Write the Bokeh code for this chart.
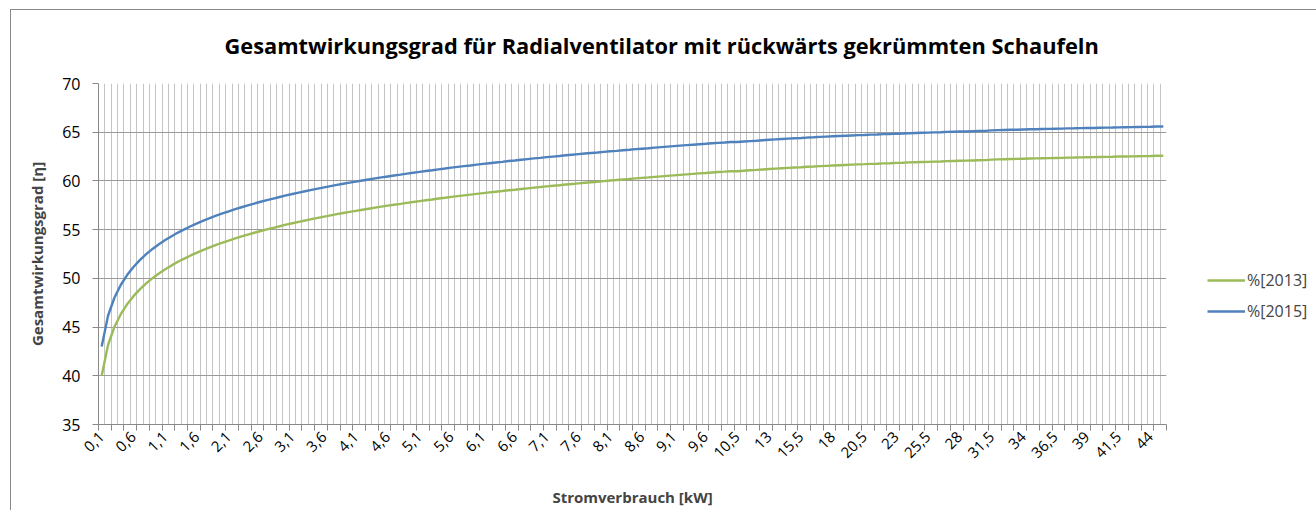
from bokeh.plotting import figure
from bokeh.models import FixedTicker, Range1d, Legend, LegendItem, Title
from bokeh.embed import file_html
from bokeh.resources import INLINE

# ---------------- data ----------------
power_kw = [
    0.1, 0.2, 0.3, 0.4, 0.5, 0.6, 0.7, 0.8, 0.9, 1.0,
    1.1, 1.2, 1.3, 1.4, 1.5, 1.6, 1.7, 1.8, 1.9, 2.0,
    2.1, 2.2, 2.3, 2.4, 2.5, 2.6, 2.7, 2.8, 2.9, 3.0,
    3.1, 3.2, 3.3, 3.4, 3.5, 3.6, 3.7, 3.8, 3.9, 4.0,
    4.1, 4.2, 4.3, 4.4, 4.5, 4.6, 4.7, 4.8, 4.9, 5.0,
    5.1, 5.2, 5.3, 5.4, 5.5, 5.6, 5.7, 5.8, 5.9, 6.0,
    6.1, 6.2, 6.3, 6.4, 6.5, 6.6, 6.7, 6.8, 6.9, 7.0,
    7.1, 7.2, 7.3, 7.4, 7.5, 7.6, 7.7, 7.8, 7.9, 8.0,
    8.1, 8.2, 8.3, 8.4, 8.5, 8.6, 8.7, 8.8, 8.9, 9.0,
    9.1, 9.2, 9.3, 9.4, 9.5, 9.6, 9.7, 9.8, 9.9, 10.0,
    10.5, 11, 11.5, 12, 12.5, 13, 13.5, 14, 14.5, 15,
    15.5, 16, 16.5, 17, 17.5, 18, 18.5, 19, 19.5, 20,
    20.5, 21, 21.5, 22, 22.5, 23, 23.5, 24, 24.5, 25,
    25.5, 26, 26.5, 27, 27.5, 28, 28.5, 29, 29.5, 30,
    31.5, 32, 32.5, 33, 33.5, 34, 34.5, 35, 35.5, 36,
    36.5, 37, 37.5, 38, 38.5, 39, 39.5, 40, 40.5, 41,
    41.5, 42, 42.5, 43, 43.5, 44, 44.5, 45,
]

eta_2013 = [
    40.00, 43.16, 45.01, 46.32, 47.34, 48.17, 48.87, 49.48, 50.02, 50.50,
    50.93, 51.33, 51.70, 52.03, 52.35, 52.64, 52.92, 53.18, 53.43, 53.66,
    53.88, 54.10, 54.30, 54.49, 54.68, 54.86, 55.03, 55.19, 55.35, 55.51,
    55.66, 55.80, 55.94, 56.08, 56.21, 56.34, 56.47, 56.59, 56.71, 56.82,
    56.93, 57.04, 57.15, 57.26, 57.36, 57.46, 57.56, 57.65, 57.75, 57.84,
    57.93, 58.02, 58.10, 58.19, 58.27, 58.36, 58.44, 58.52, 58.59, 58.67,
    58.75, 58.82, 58.89, 58.96, 59.04, 59.10, 59.17, 59.24, 59.31, 59.37,
    59.44, 59.50, 59.56, 59.63, 59.69, 59.75, 59.81, 59.87, 59.92, 59.98,
    60.04, 60.09, 60.15, 60.20, 60.26, 60.31, 60.36, 60.42, 60.47, 60.52,
    60.57, 60.62, 60.67, 60.72, 60.77, 60.81, 60.86, 60.91, 60.95, 61.00,
    60.99, 61.04, 61.09, 61.13, 61.18, 61.22, 61.26, 61.30, 61.34, 61.38,
    61.41, 61.45, 61.48, 61.52, 61.55, 61.58, 61.61, 61.64, 61.67, 61.70,
    61.72, 61.75, 61.77, 61.80, 61.82, 61.85, 61.87, 61.90, 61.92, 61.94,
    61.96, 61.98, 62.00, 62.03, 62.05, 62.07, 62.08, 62.10, 62.12, 62.14,
    62.19, 62.21, 62.23, 62.25, 62.26, 62.28, 62.30, 62.31, 62.33, 62.34,
    62.36, 62.37, 62.39, 62.40, 62.42, 62.43, 62.44, 62.46, 62.47, 62.48,
    62.50, 62.51, 62.52, 62.54, 62.55, 62.56, 62.58, 62.59,
]

eta_2015 = [
    43.00, 46.16, 48.01, 49.32, 50.34, 51.17, 51.87, 52.48, 53.02, 53.50,
    53.93, 54.33, 54.70, 55.03, 55.35, 55.64, 55.92, 56.18, 56.43, 56.66,
    56.88, 57.10, 57.30, 57.49, 57.68, 57.86, 58.03, 58.19, 58.35, 58.51,
    58.66, 58.80, 58.94, 59.08, 59.21, 59.34, 59.47, 59.59, 59.71, 59.82,
    59.93, 60.04, 60.15, 60.26, 60.36, 60.46, 60.56, 60.65, 60.75, 60.84,
    60.93, 61.02, 61.10, 61.19, 61.27, 61.36, 61.44, 61.52, 61.59, 61.67,
    61.75, 61.82, 61.89, 61.96, 62.04, 62.10, 62.17, 62.24, 62.31, 62.37,
    62.44, 62.50, 62.56, 62.63, 62.69, 62.75, 62.81, 62.87, 62.92, 62.98,
    63.04, 63.09, 63.15, 63.20, 63.26, 63.31, 63.36, 63.42, 63.47, 63.52,
    63.57, 63.62, 63.67, 63.72, 63.77, 63.81, 63.86, 63.91, 63.95, 64.00,
    63.99, 64.04, 64.09, 64.13, 64.18, 64.22, 64.26, 64.30, 64.34, 64.38,
    64.41, 64.45, 64.48, 64.52, 64.55, 64.58, 64.61, 64.64, 64.67, 64.70,
    64.72, 64.75, 64.77, 64.80, 64.82, 64.85, 64.87, 64.90, 64.92, 64.94,
    64.96, 64.98, 65.00, 65.03, 65.05, 65.07, 65.08, 65.10, 65.12, 65.14,
    65.19, 65.21, 65.23, 65.25, 65.26, 65.28, 65.30, 65.31, 65.33, 65.34,
    65.36, 65.37, 65.39, 65.40, 65.42, 65.43, 65.44, 65.46, 65.47, 65.48,
    65.50, 65.51, 65.52, 65.54, 65.55, 65.56, 65.58, 65.59,
]

series_names = ["%[2013]", "%[2015]"]
series_colors = ["#9bbb59", "#4f81bd"]
y_ticks = [35, 40, 45, 50, 55, 60, 65, 70]
label_every = 5     # every 5th category is labelled
tick_every = 2      # tick marks every 2nd category boundary

title_text = "Gesamtwirkungsgrad für Radialventilator mit rückwärts gekrümmten Schaufeln"
x_title = "Stromverbrauch [kW]"
y_title = "Gesamtwirkungsgrad [η]"

FONT = "Open Sans"

# ---------------- helpers ----------------
def de_label(v):
    return ("%g" % v).replace(".", ",")

n = len(power_kw)
xs = [i + 0.5 for i in range(n)]
label_pos = [i + 0.5 for i in range(0, n, label_every)]
overrides = {i + 0.5: de_label(power_kw[i]) for i in range(0, n, label_every)}

# ---------------- figure ----------------
p = figure(
    frame_width=1068, frame_height=341,
    x_range=Range1d(0, n), y_range=Range1d(y_ticks[0], y_ticks[-1]),
    output_backend="svg", toolbar_location=None,
    min_border_left=98, min_border_right=20, min_border_top=83, min_border_bottom=86,
)
# chart-area frame (top and left edges; the rest lies outside the window)
p.styles = {
    "background": ("linear-gradient(#898989, #898989) 10px 9px / 1px 100% no-repeat, "
                   "linear-gradient(#898989, #898989) 10px 9px / 100% 1px no-repeat, white"),
}
p.outline_line_color = None
p.background_fill_color = "white"
p.border_fill_alpha = 0

# title
p.title = Title(text=title_text, align="left", offset=126, standoff=47,
                text_font=FONT, text_font_size="21.8px", text_font_style="bold",
                text_color="black")

# x axis
xa = p.xaxis[0]
xa.ticker = FixedTicker(ticks=label_pos, minor_ticks=list(range(0, n + 1, tick_every)))
xa.major_label_overrides = overrides
xa.major_label_orientation = 0.785398
xa.major_tick_line_color = None
xa.minor_tick_line_color = "#898989"
xa.minor_tick_out = 6
xa.minor_tick_in = 0
xa.axis_line_color = "#898989"
xa.major_label_text_font = FONT
xa.major_label_text_font_size = "15px"
xa.major_label_text_color = "black"
xa.major_label_standoff = 4
xa.axis_label = x_title
xa.axis_label_text_font = FONT
xa.axis_label_text_font_size = "15px"
xa.axis_label_text_font_style = "bold"
xa.axis_label_standoff = 21

# y axis
ya = p.yaxis[0]
ya.ticker = FixedTicker(ticks=y_ticks)
ya.minor_tick_line_color = None
ya.major_tick_line_color = "#898989"
ya.major_tick_out = 6
ya.major_tick_in = 0
ya.axis_line_color = "#898989"
ya.major_label_text_font = FONT
ya.major_label_text_font_size = "16px"
ya.major_label_text_color = "black"
ya.major_label_standoff = 12
ya.axis_label = y_title
ya.axis_label_text_font = FONT
ya.axis_label_text_font_size = "15px"
ya.axis_label_text_font_style = "bold"
ya.axis_label_standoff = 12

# grids
p.xgrid.ticker = FixedTicker(ticks=list(range(0, n + 1)))
p.xgrid.grid_line_color = "#c4c4c4"
p.ygrid.ticker = FixedTicker(ticks=y_ticks)
p.ygrid.grid_line_color = "#9a9a9a"

# lines
r1 = p.line(xs, eta_2013, line_color=series_colors[0], line_width=2.4)
r2 = p.line(xs, eta_2015, line_color=series_colors[1], line_width=2.4)

legend = Legend(
    items=[LegendItem(label=series_names[0], renderers=[r1]),
           LegendItem(label=series_names[1], renderers=[r2])],
    location=(41, 102), orientation="vertical",
    border_line_color=None, background_fill_alpha=0,
    padding=0, margin=0, spacing=9,
    glyph_width=38, glyph_height=20, label_height=20, label_standoff=2,
    label_text_font=FONT, label_text_font_size="16px",
)
p.add_layout(legend, "right")

open("out.html", "w").write(file_html(p, INLINE))
